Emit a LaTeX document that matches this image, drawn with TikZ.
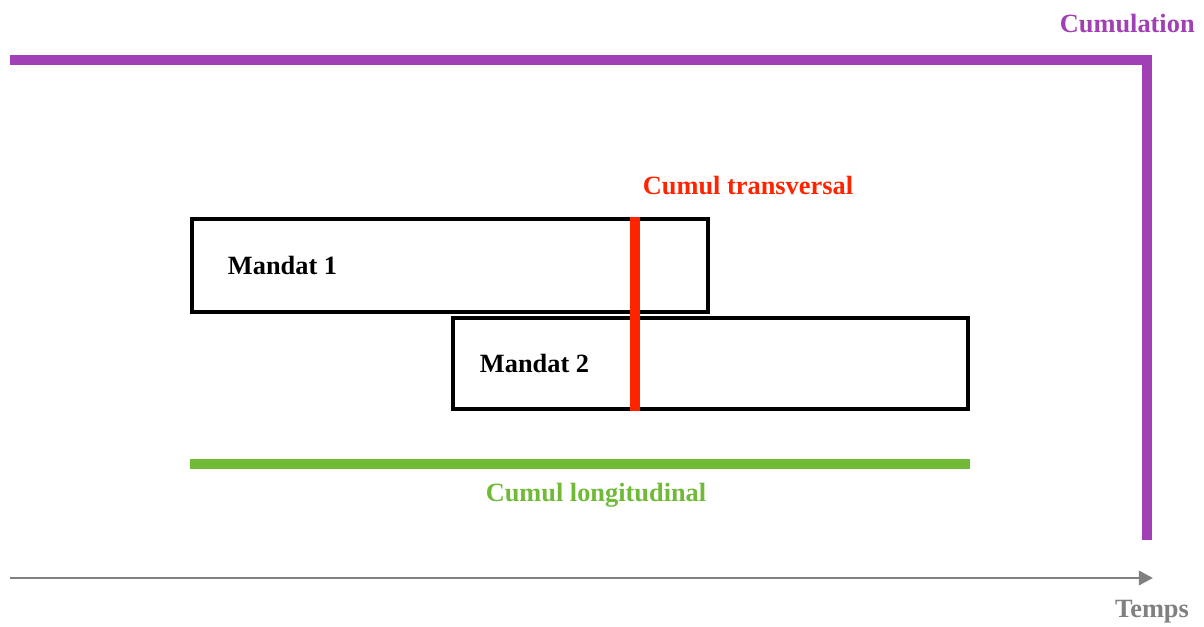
\documentclass[tikz,border=0pt]{standalone}
\usepackage{fontspec}
\setmainfont{Liberation Serif}
\usetikzlibrary{positioning}
\usetikzlibrary{arrows.meta}
\definecolor{cumulpurple}{RGB}{160,64,180}
\definecolor{cumulred}{RGB}{255,36,0}
\definecolor{cumulgreen}{RGB}{112,186,56}
\definecolor{tempsgray}{RGB}{128,128,128}
\tikzset{lbl/.style={font=\fontsize{15}{18}\selectfont\bfseries, inner sep=0pt}}
\tikzset{mandat/.style={draw, line width=2.8pt, inner sep=0pt}}
\tikzset{>={Triangle[length=8pt,width=8pt]}}

\begin{document}
\begin{tikzpicture}[on grid]
        \useasboundingbox (0,0) rectangle (24.08,12.52);

        \node[mandat, minimum width=10.32cm, minimum height=1.86cm] (m1) at (9.0,7.21) {};
        \node[mandat, minimum width=10.3cm, minimum height=1.82cm] (m2) at (14.21,5.25) {};
        \node[lbl, right=1.86 of m1.west, anchor=center] (t1) {Mandat 1};
        \node[lbl, right=1.68 of m2.west, anchor=center] (t2) {Mandat 2};

        \coordinate (rtop) at (12.7,8.18);
        \coordinate (rbot) at (12.7,4.30);
        \node[lbl, text=cumulred] (trans) at (14.96,8.8) {Cumul transversal};

        \coordinate (gl) at (3.8,3.24);
        \coordinate (gr) at (19.4,3.24);
        \node[lbl, text=cumulgreen] (longi) at (11.92,2.62) {Cumul longitudinal};

        \coordinate (p0) at (0.2,11.32);
        \coordinate (p1) at (22.94,11.32);
        \coordinate (p2) at (22.94,1.72);
        \node[lbl, text=cumulpurple, anchor=east] (cumu) at (23.9,12.04) {Cumulation};

        \coordinate (a0) at (0.2,0.96);
        \coordinate (a1) at (23.06,0.96);
        \node[lbl, text=tempsgray] (temps) at (23.04,0.28) {Temps};

        \draw[cumulred, line width=5.7pt] (rtop) -- (rbot);
        \draw[cumulgreen, line width=6pt] (gl) -- (gr);
        \draw[cumulpurple, line width=5.7pt, line join=miter] (p0) -- (p1) -- (p2);
        \draw[->, tempsgray, line width=1.7pt] (a0) -- (a1);
    \end{tikzpicture}
\end{document}
